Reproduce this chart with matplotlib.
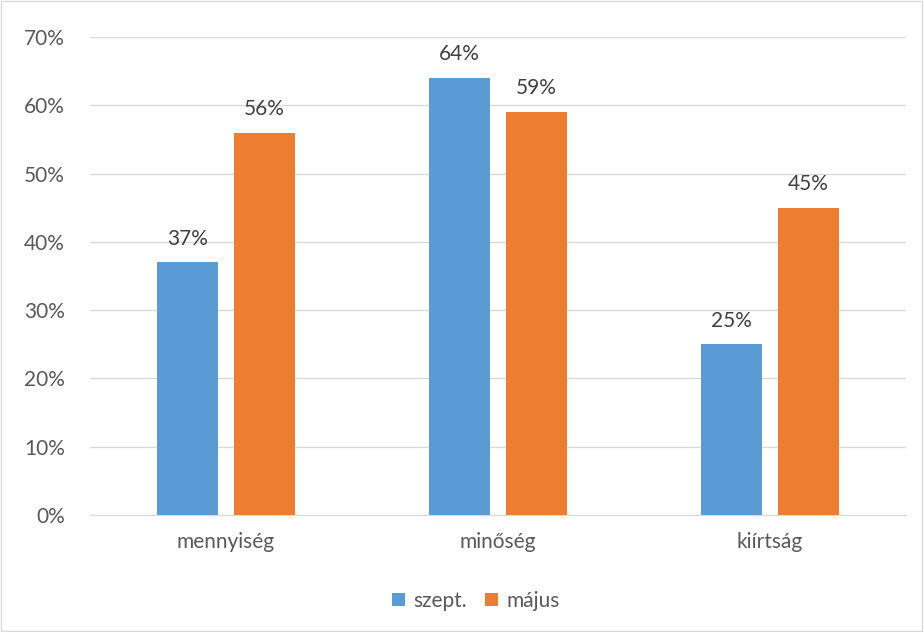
import matplotlib.pyplot as plt
import numpy as np

categories = ['mennyiség', 'minőség', 'kiírtság']
szept = [37, 64, 25]
majus = [56, 59, 45]
series_names = ['szept.', 'május']

plt.rcParams['font.family'] = ['Lato', 'DejaVu Sans']
fs = 15

fig = plt.figure(figsize=(9.24, 6.32), dpi=100)
ax = fig.add_axes([90 / 924, 117 / 632, 816 / 924, 478 / 632])

x = np.arange(len(categories))
w = 0.224
off = 0.1415
b1 = ax.bar(x - off, szept, w, color='#5B9BD5', label=series_names[0], zorder=3)
b2 = ax.bar(x + off, majus, w, color='#ED7D31', label=series_names[1], zorder=3)

for bars in (b1, b2):
    for r in bars:
        ax.text(r.get_x() + r.get_width() / 2, r.get_height() + 2.0, f'{r.get_height():.0f}%',
                ha='center', va='bottom', fontsize=fs, color='#404040')

ax.set_xlim(-0.5, 2.5)
ax.set_ylim(0, 70)
ax.set_yticks(range(0, 71, 10))
ax.set_yticklabels([f'{v}%' for v in range(0, 71, 10)])
ax.set_xticks(x)
ax.set_xticklabels(categories)
ax.tick_params(axis='both', length=0, labelsize=fs, labelcolor='#595959')
ax.tick_params(axis='y', pad=18)
ax.tick_params(axis='x', pad=12)
ax.grid(axis='y', color='#D9D9D9', linewidth=1, zorder=0)
for s in ['top', 'right', 'left']:
    ax.spines[s].set_visible(False)
ax.spines['bottom'].set_color('#D9D9D9')

fig.legend(loc='center', bbox_to_anchor=(476 / 924, 1 - 601 / 632), ncol=2, frameon=False,
           fontsize=fs, handlelength=0.6, handleheight=0.6, columnspacing=0.9, handletextpad=0.4,
           labelcolor='#595959')

fig.patches.append(plt.Rectangle((0.001, 0.001), 0.997, 0.997, transform=fig.transFigure,
                                 fill=False, edgecolor='#D9D9D9', linewidth=1))

fig.savefig('out.png', dpi=100)
